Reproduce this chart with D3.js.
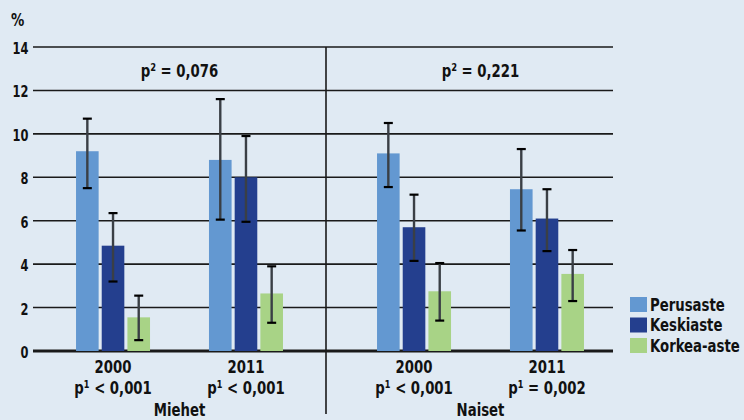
<!DOCTYPE html>
<html>
<head>
<meta charset="utf-8">
<script src="https://d3js.org/d3.v7.min.js"></script>
<style>
  body { margin: 0; background: #e0eaf3; }
  svg text { font-family: "DejaVu Sans Condensed", "DejaVu Sans", sans-serif; font-stretch: condensed; font-weight: bold; fill: #111; }
</style>
</head>
<body>
<div id="vis"></div>
<script>
// data, group order: Miehet 2000, Miehet 2011, Naiset 2000, Naiset 2011
const sexes = ['Miehet', 'Naiset'];
const years = ['2000', '2011'];
const levels = ['Perusaste', 'Keskiaste', 'Korkea-aste'];
const perusaste = [9.2, 8.8, 9.1, 7.45];
const keskiaste = [4.85, 8.0, 5.7, 6.1];
const korkea = [1.55, 2.65, 2.75, 3.55];
const perusasteCI = [[7.5, 10.7], [6.05, 11.6], [7.55, 10.5], [5.55, 9.3]];
const keskiasteCI = [[3.2, 6.35], [5.95, 9.9], [4.15, 7.2], [4.6, 7.45]];
const korkeaCI = [[0.5, 2.55], [1.3, 3.9], [1.4, 4.05], [2.3, 4.65]];
const pTrend = ['p² = 0,076', 'p² = 0,221'];
const pYear = ['p¹ < 0,001', 'p¹ < 0,001', 'p¹ < 0,001', 'p¹ = 0,002'];
const yTicks = [0, 2, 4, 6, 8, 10, 12, 14];
const colors = ['#6398d1', '#243f8e', '#a8d386'];

const width = 744, height = 420;
const svg = d3.select('#vis').append('svg').attr('width', width).attr('height', height);
svg.append('rect').attr('width', width).attr('height', height).attr('fill', '#e0eaf3');

const y = d3.scaleLinear().domain([0, 14]).range([351, 47]);
const x0 = d3.scaleBand().domain(sexes).range([29, 631]);
const x1 = d3.scalePoint().domain(years).range([0, x0.bandwidth()]).padding(0.632);
const x2 = d3.scaleBand().domain(levels).range([-37, 37]).paddingInner(0.12);
const plotLeft = 33, plotRight = 613;
const SX = 0.82; // narrow the glyphs, the original uses a condensed face

// build rows
const vals = [perusaste, keskiaste, korkea];
const cis = [perusasteCI, keskiasteCI, korkeaCI];
const groups = [];
sexes.forEach((s, si) => years.forEach((yr, yi) => groups.push({ sex: s, year: yr, i: si * 2 + yi })));
const rows = [];
groups.forEach(g => levels.forEach((l, li) => rows.push({
  ...g, level: l, li, value: vals[li][g.i], lo: cis[li][g.i][0], hi: cis[li][g.i][1]
})));
const cx = g => x0(g.sex) + x1(g.year);

// text helper: position via transform so it can be squeezed horizontally
function place(sel, fx, fy, size, anchor) {
  return sel.attr('transform', (d, i) => `translate(${fx(d, i)},${fy(d, i)}) scale(${SX},1)`)
    .attr('font-size', size).attr('text-anchor', anchor || 'middle');
}

// gridlines
svg.selectAll('.grid').data(yTicks).join('line')
  .attr('x1', plotLeft).attr('x2', plotRight)
  .attr('y1', d => y(d)).attr('y2', d => y(d))
  .attr('stroke', '#1a1a1a').attr('stroke-width', d => d === 0 ? 3 : 1.6);

place(svg.selectAll('.tick').data(yTicks).join('text'), () => 28.5, d => y(d) + 7, 15.5, 'end')
  .text(d => d);
place(svg.append('text'), () => 11, () => 26, 18, 'start').text('%');

// divider
svg.append('line')
  .attr('x1', x0('Naiset') - 4).attr('x2', x0('Naiset') - 4)
  .attr('y1', y(14)).attr('y2', 414)
  .attr('stroke', '#1a1a1a').attr('stroke-width', 1.6);

// bars
svg.selectAll('.bar').data(rows).join('rect')
  .attr('x', d => cx(d) + x2(d.level))
  .attr('width', x2.bandwidth())
  .attr('y', d => y(d.value))
  .attr('height', d => y(0) - y(d.value))
  .attr('fill', d => colors[d.li]);

// error bars
const eb = svg.selectAll('.err').data(rows).join('g')
  .attr('transform', d => `translate(${cx(d) + x2(d.level) + x2.bandwidth() / 2},0)`);
eb.append('line').attr('y1', d => y(d.lo)).attr('y2', d => y(d.hi))
  .attr('stroke', '#3a3f45').attr('stroke-width', 2.4);
eb.append('line').attr('x1', -4.5).attr('x2', 4.5).attr('y1', d => y(d.hi)).attr('y2', d => y(d.hi))
  .attr('stroke', '#000').attr('stroke-width', 2.2);
eb.append('line').attr('x1', -4.5).attr('x2', 4.5).attr('y1', d => y(d.lo)).attr('y2', d => y(d.lo))
  .attr('stroke', '#000').attr('stroke-width', 2.2);

// p labels
place(svg.selectAll('.ptrend').data(sexes).join('text'), d => x0(d) + x0.bandwidth() / 2, () => 77, 18)
  .text((d, i) => pTrend[i]);

// x labels
place(svg.selectAll('.year').data(groups).join('text'), d => cx(d), () => 373, 18)
  .text(d => d.year);
place(svg.selectAll('.pyear').data(groups).join('text'), d => cx(d), () => 394, 18)
  .text(d => pYear[d.i]);
place(svg.selectAll('.sex').data(sexes).join('text'), d => x0(d) + x0.bandwidth() / 2, () => 416, 18)
  .text(d => d);

// legend
const lg = svg.selectAll('.legend').data(levels).join('g')
  .attr('transform', (d, i) => `translate(630,${297 + i * 20.5})`);
lg.append('rect').attr('width', 17).attr('height', 15).attr('fill', (d, i) => colors[i]);
place(lg.append('text'), () => 20, () => 13.5, 18, 'start').text(d => d);
</script>
</body>
</html>
